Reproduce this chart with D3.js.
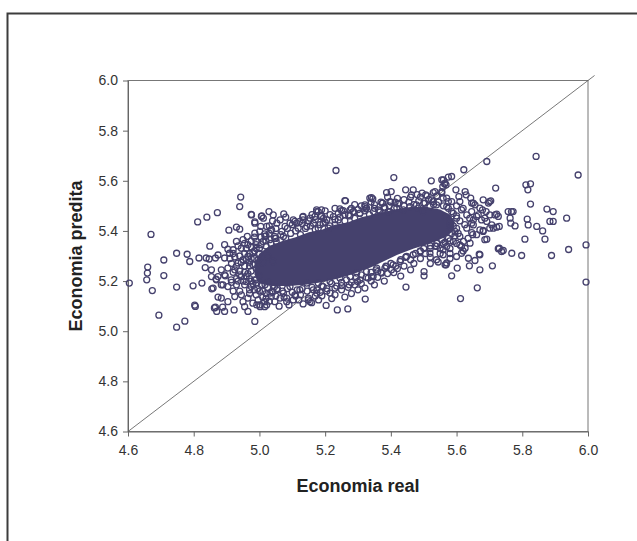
<!DOCTYPE html>
<html><head><meta charset="utf-8">
<script src="https://cdn.jsdelivr.net/npm/d3@7"></script>
<style>body{margin:0;background:#fff}svg{display:block}</style>
</head><body>
<svg id="c" width="637" height="541"></svg>
<script>
const xTicks=[4.6,4.8,5.0,5.2,5.4,5.6,5.8,6.0];
const yTicks=[4.6,4.8,5.0,5.2,5.4,5.6,5.8,6.0];
const xTitle="Economia real";
const yTitle="Economia predita";
const diagonal=[4.6,6.02];
// region where markers overlap into a solid mass
const denseCore=[[4.985,5.27],[5.0,5.31],[5.03,5.34],[5.07,5.36],[5.11,5.375],[5.15,5.395],[5.19,5.405],[5.23,5.425],[5.27,5.435],[5.31,5.455],[5.36,5.47],[5.41,5.485],[5.46,5.495],[5.51,5.495],[5.55,5.485],[5.58,5.465],
[5.595,5.435],[5.59,5.40],[5.565,5.375],
[5.52,5.35],[5.47,5.33],[5.42,5.305],[5.38,5.28],[5.34,5.255],[5.29,5.23],[5.24,5.21],[5.19,5.195],[5.14,5.185],[5.09,5.18],[5.04,5.18],[5.00,5.19],[4.985,5.225]];
const leftPoints=[[4.943,5.535],[4.94,5.497],[4.872,5.473],[4.84,5.455],[4.812,5.436],[4.67,5.386],[4.975,5.466],[5.006,5.458],[5.029,5.477],[4.986,5.436],[5.004,5.418],[4.907,5.403],[4.93,5.415],[4.94,5.407],[4.849,5.339],[4.748,5.311],[4.78,5.307],[4.788,5.278],[4.709,5.284],[4.816,5.292],[4.838,5.292],[4.847,5.288],[4.866,5.292],[4.66,5.256],[4.659,5.232],[4.657,5.205],[4.709,5.222],[4.604,5.192],[4.674,5.162],[4.748,5.176],[4.798,5.181],[4.825,5.192],[4.803,5.104],[4.805,5.099],[4.694,5.064],[4.773,5.04],[4.748,5.016],[4.986,5.039],[4.874,5.136],[4.866,5.096],[4.888,5.096],[4.894,5.079],[4.923,5.085],[4.859,5.172],[4.835,5.254],[4.854,5.218],[4.896,5.221],[4.884,5.185],[4.868,5.208],[4.855,5.169],[4.863,5.093],[4.87,5.079]];
const leftFringe=[[4.93,5.358],[4.95,5.365],[4.963,5.378],[4.986,5.391],[5.001,5.398],[5.016,5.388],[5.036,5.404],[5.046,5.378],[4.894,5.345],[4.904,5.327],[4.92,5.325],[4.945,5.331],[4.965,5.345],[4.99,5.358],[5.011,5.358],[5.031,5.365],[5.051,5.358],[4.874,5.304],[4.894,5.292],[4.909,5.311],[4.925,5.296],[4.935,5.272],[4.95,5.285],[4.965,5.298],[4.98,5.265],[4.996,5.285],[5.011,5.272],[5.026,5.298],[5.041,5.278],[4.904,5.252],[4.925,5.245],[4.884,5.245],[4.854,5.245],[4.874,5.218],[4.894,5.225],[4.914,5.205],[4.93,5.185],[4.945,5.218],[4.96,5.198],[4.975,5.178],[4.99,5.205],[5.006,5.185],[5.026,5.198],[5.046,5.178],[4.904,5.178],[4.889,5.185],[4.869,5.205],[4.884,5.132],[4.904,5.118],[4.925,5.138],[4.95,5.118],[4.965,5.132],[4.98,5.112],[5.001,5.105],[5.016,5.118],[5.036,5.138],[4.955,5.098],[4.996,5.125],[4.965,5.079],[5.016,5.098],
[4.97,5.31],[4.985,5.32],[5.0,5.33],[5.02,5.34],[4.975,5.24],[4.99,5.25],[5.0,5.22],[4.955,5.26],[4.94,5.24],[4.96,5.22],[4.985,5.29],[4.97,5.275],[4.955,5.31],[4.94,5.30],[5.0,5.31],[4.93,5.21],[4.95,5.20],[4.98,5.19],[5.0,5.16],[5.02,5.15],[4.97,5.15],[4.94,5.16],[4.92,5.16],[5.04,5.16],[5.03,5.12],
[4.915,5.27],[4.93,5.26],[4.945,5.275],[4.96,5.285],[4.92,5.235],[4.94,5.225],[4.955,5.235],[4.97,5.21],[4.985,5.205],[4.91,5.29],[4.92,5.31],[4.935,5.34],[4.955,5.35],[4.975,5.36],[4.96,5.33],[4.975,5.335],[4.99,5.345],[4.985,5.375],[5.005,5.375],[5.02,5.38],[5.03,5.39],[4.915,5.195],[4.935,5.20],[4.955,5.185],[4.945,5.145],[4.97,5.165],[4.99,5.145],[5.01,5.135],[4.985,5.165],
[4.975,5.20],[4.965,5.23],[4.97,5.26],[4.975,5.29],[4.98,5.315]];
const bottomFringe=[[4.992,5.192],[5.017,5.185],[5.032,5.152],[5.053,5.165],[5.073,5.152],[5.093,5.178],[5.108,5.145],[5.123,5.165],[5.144,5.192],[5.164,5.165],[5.179,5.192],[5.194,5.178],[5.215,5.198],[5.23,5.172],[5.245,5.212],[5.276,5.218],[5.296,5.232],[5.306,5.205],[5.326,5.238],[5.341,5.218],[5.357,5.252],[5.372,5.232],[5.387,5.258],[5.407,5.265],[5.428,5.278],[5.448,5.298],[5.468,5.305],[5.489,5.318],[5.519,5.311],[5.539,5.338],[5.559,5.325],[5.047,5.118],[5.063,5.132],[5.083,5.118],[5.103,5.125],[5.149,5.125],[5.159,5.114],[5.002,5.098],[5.022,5.105],[4.992,5.105],[5.083,5.132],[5.133,5.109],[5.154,5.118],[5.149,5.132],[5.215,5.152],[5.23,5.145],[5.19,5.141],[5.174,5.152],[5.299,5.198],[5.331,5.212],[5.346,5.218],[5.409,5.234],[5.402,5.245],[5.382,5.252],[5.36,5.238],[5.539,5.285],[5.565,5.265],
[4.995,5.17],[5.01,5.16],[5.025,5.175],[5.04,5.155],[5.055,5.17],[5.07,5.16],[5.085,5.17],[5.10,5.155],[5.115,5.165],[5.13,5.17],[5.145,5.16],[5.16,5.175],[5.175,5.165],[5.19,5.18],[5.205,5.17],[5.22,5.19],[5.235,5.18],[5.25,5.195],[5.265,5.205],[5.28,5.195],[5.295,5.215],[5.31,5.225],[5.325,5.215],[5.34,5.235],[5.355,5.245],[5.37,5.235],[5.385,5.26],[5.40,5.27],[5.415,5.26],[5.43,5.285],[5.445,5.295],[5.46,5.285],[5.475,5.31],[5.49,5.32],[5.505,5.31],[5.52,5.33],[5.535,5.34],[5.55,5.33],[5.565,5.355],[5.58,5.36],[5.595,5.38],
[5.02,5.13],[5.05,5.14],[5.075,5.135],[5.11,5.14],[5.125,5.145],[5.17,5.14],[5.185,5.155],[5.205,5.16],[5.25,5.165],[5.27,5.175],[5.29,5.185],[5.31,5.19],[5.34,5.20],[5.36,5.215],[5.39,5.23],[5.42,5.25],[5.44,5.26],[5.47,5.27],[5.49,5.29],[5.52,5.295],[5.55,5.31],[5.58,5.33],[5.60,5.35],
[5.06,5.10],[5.09,5.105],[5.12,5.125],[5.18,5.125],[5.22,5.13],[5.28,5.15],[5.30,5.165],[5.35,5.185],[5.38,5.20],[5.43,5.22],[5.46,5.245],[5.52,5.27],[5.58,5.29]];
const bottomOutliers=[[5.203,5.103],[5.237,5.085],[5.269,5.089],[5.26,5.136],[5.322,5.128],[5.321,5.172],[5.25,5.182],[5.273,5.185],[5.446,5.176],[5.501,5.238],[5.501,5.221]];
const topFringe=[[5.012,5.451],[5.042,5.464],[5.063,5.444],[5.078,5.418],[5.093,5.431],[5.113,5.431],[5.133,5.444],[5.154,5.451],[5.174,5.477],[5.189,5.46],[5.205,5.444],[5.225,5.457],[5.24,5.444],[5.25,5.481],[5.271,5.464],[5.286,5.477],[5.306,5.471],[5.326,5.491],[5.347,5.477],[5.362,5.484],[5.382,5.491],[5.397,5.477],[5.418,5.491],[5.438,5.484],[5.458,5.497],[5.478,5.504],[5.504,5.511],[5.524,5.524],[5.539,5.504],[5.559,5.531],[5.575,5.517],[5.022,5.418],[5.037,5.404],[5.053,5.431],[5.068,5.398],[5.103,5.444],[5.118,5.411],[5.144,5.418],[5.164,5.431],[5.179,5.411],[5.194,5.431],[5.21,5.411],[5.23,5.424],[5.017,5.378],[5.047,5.371],[5.073,5.378],
[4.99,5.33],[5.005,5.345],[5.02,5.36],[5.035,5.35],[5.05,5.37],[5.065,5.385],[5.08,5.37],[5.095,5.39],[5.11,5.40],[5.125,5.385],[5.14,5.41],[5.155,5.42],[5.17,5.405],[5.185,5.425],[5.2,5.435],[5.215,5.42],[5.23,5.445],[5.245,5.455],[5.26,5.44],[5.275,5.46],[5.29,5.45],[5.305,5.47],[5.32,5.48],[5.335,5.465],[5.35,5.49],[5.365,5.48],[5.38,5.495],[5.395,5.50],[5.41,5.49],[5.425,5.51],[5.44,5.50],[5.455,5.515],[5.47,5.505],[5.485,5.52],[5.50,5.51],[5.515,5.525],[5.53,5.505],[5.545,5.515],[5.56,5.50],[5.575,5.49],[5.59,5.47],
[5.03,5.42],[5.05,5.41],[5.085,5.41],[5.10,5.425],[5.13,5.43],[5.15,5.44],[5.17,5.445],[5.195,5.45],[5.215,5.465],[5.24,5.47],[5.26,5.465],[5.28,5.49],[5.30,5.485],[5.31,5.50],[5.35,5.505],[5.37,5.515],[5.42,5.53],[5.44,5.525],[5.49,5.535],[5.51,5.54],[5.54,5.54],
[5.04,5.44],[5.08,5.455],[5.16,5.465],[5.20,5.48],[5.23,5.49],[5.29,5.505],[5.34,5.515],[5.39,5.535],[5.46,5.535],[5.48,5.545]];
const topOutliers=[[5.233,5.641],[5.409,5.613],[5.523,5.6],[5.555,5.604],[5.565,5.591],[5.558,5.577],[5.445,5.564],[5.468,5.564],[5.463,5.544],[5.387,5.553],[5.401,5.557],[5.495,5.551],[5.506,5.544],[5.529,5.553],[5.262,5.52],[5.336,5.531],[5.345,5.528],[5.374,5.511],[5.4,5.515],[5.413,5.515],[5.421,5.508],[5.321,5.504],[5.324,5.488],[5.245,5.488],[5.255,5.481],[5.189,5.484],[5.179,5.477],[5.074,5.468],[5.007,5.46],[5.132,5.455],[5.123,5.438],[5.108,5.438],[5.367,5.475],[5.392,5.477],[5.286,5.477],[5.483,5.491],[5.499,5.477],[5.519,5.497],[5.529,5.517],[5.57,5.531],[4.986,5.431],[4.976,5.464],[5.133,5.458],[5.174,5.484],[5.186,5.458],[5.169,5.458],[5.26,5.521],[5.276,5.484],[5.321,5.497],[5.341,5.533],[5.375,5.511],[5.397,5.517],[5.534,5.557],[5.555,5.557],[5.575,5.615],[5.563,5.588]];
const rightPoints=[[5.842,5.697],[5.97,5.623],[5.692,5.677],[5.622,5.644],[5.585,5.617],[5.56,5.604],[5.568,5.584],[5.719,5.571],[5.811,5.584],[5.825,5.588],[5.817,5.564],[5.598,5.564],[5.626,5.557],[5.629,5.544],[5.61,5.517],[5.643,5.531],[5.646,5.511],[5.656,5.504],[5.681,5.524],[5.7,5.517],[5.704,5.52],[5.825,5.507],[5.585,5.517],[5.671,5.491],[5.679,5.484],[5.69,5.477],[5.757,5.477],[5.767,5.477],[5.772,5.477],[5.875,5.487],[5.894,5.477],[5.935,5.451],[5.884,5.438],[5.894,5.438],[5.815,5.447],[5.818,5.424],[5.844,5.418],[5.862,5.4],[5.763,5.451],[5.765,5.431],[5.778,5.42],[5.717,5.464],[5.727,5.458],[5.73,5.418],[5.712,5.411],[5.808,5.367],[5.869,5.367],[5.73,5.331],[5.742,5.322],[5.768,5.311],[5.798,5.302],[5.889,5.302],[5.941,5.326],[5.994,5.344],[5.994,5.196],[5.692,5.367],[5.681,5.402],[5.661,5.385],[5.646,5.393],[5.709,5.261],[5.671,5.245],[5.656,5.282],[5.669,5.307],[5.639,5.261],[5.636,5.291],[5.615,5.311],[5.626,5.331],[5.61,5.344],[5.602,5.252],[5.585,5.221],[5.568,5.265],[5.663,5.173],[5.612,5.13],[5.544,5.276],[5.607,5.537],[5.651,5.511],[5.697,5.511],[5.722,5.467],[5.707,5.424],[5.692,5.438],[5.676,5.444],[5.661,5.458],[5.646,5.431],[5.671,5.404],[5.681,5.398],[5.737,5.318],[5.727,5.329],[5.671,5.305],[5.686,5.365],[5.649,5.385],[5.621,5.358]];
const rightFringe=[[5.555,5.551],[5.57,5.497],[5.565,5.458],[5.585,5.477],[5.6,5.451],[5.615,5.484],[5.631,5.464],[5.646,5.477],[5.651,5.444],[5.666,5.464],[5.686,5.451],[5.701,5.464],[5.58,5.418],[5.595,5.398],[5.61,5.378],[5.631,5.411],[5.651,5.424],[5.701,5.411],[5.722,5.415],[5.555,5.365],[5.57,5.338],[5.59,5.358],[5.615,5.338],[5.6,5.298],[5.641,5.351],[5.559,5.305],[5.57,5.272],[5.58,5.44],[5.59,5.42],[5.585,5.39],[5.575,5.37],[5.56,5.35],[5.54,5.35],[5.52,5.34],[5.50,5.33],
[5.60,5.41],[5.61,5.44],[5.60,5.46],[5.605,5.39],[5.60,5.50],[5.62,5.49],[5.64,5.45],[5.625,5.425],[5.635,5.37],[5.62,5.32],[5.58,5.31]];

const points=[].concat(leftPoints,leftFringe,bottomFringe,bottomOutliers,topFringe,topOutliers,rightPoints,rightFringe);
const markColor="#45416d";
const font="'Liberation Sans',Arial,sans-serif";

const svg=d3.select("#c");
svg.append("rect").attr("x",7.5).attr("y",13.5).attr("width",700).attr("height",600)
  .attr("fill","none").attr("stroke","#3c3c3c").attr("stroke-width",2);

const m={l:128,t:80.5,r:588,b:431.5};
const x=d3.scaleLinear().domain([4.6,6.0]).range([m.l,m.r]);
const y=d3.scaleLinear().domain([4.6,6.0]).range([m.b,m.t]);

svg.append("rect").attr("x",m.l).attr("y",m.t).attr("width",m.r-m.l).attr("height",m.b-m.t)
  .attr("fill","none").attr("stroke","#777").attr("stroke-width",1);

const fmt=d3.format(".1f");
const gx=svg.append("g").attr("transform",`translate(0,${m.b})`)
  .call(d3.axisBottom(x).tickValues(xTicks).tickFormat(fmt).tickSize(5).tickSizeOuter(0).tickPadding(9));
const gy=svg.append("g").attr("transform",`translate(${m.l},0)`)
  .call(d3.axisLeft(y).tickValues(yTicks).tickFormat(fmt).tickSize(5).tickSizeOuter(0).tickPadding(5));
[gx,gy].forEach(g=>{
  g.selectAll("path").attr("stroke","#666");
  g.selectAll("line").attr("stroke","#666");
  g.selectAll("text").attr("fill","#333").style("font-family",font).style("font-size","14px");
});

svg.append("line").attr("x1",x(diagonal[0])).attr("y1",y(diagonal[0]))
  .attr("x2",x(diagonal[1])).attr("y2",y(diagonal[1]))
  .attr("stroke","#555").attr("stroke-width",0.8);

svg.append("path").datum(denseCore)
  .attr("d",d3.line().x(d=>x(d[0])).y(d=>y(d[1])).curve(d3.curveLinearClosed))
  .attr("fill",markColor);

svg.append("g").selectAll("circle").data(points).join("circle")
  .attr("cx",d=>x(d[0])).attr("cy",d=>y(d[1])).attr("r",3)
  .attr("fill","none").attr("stroke",markColor).attr("stroke-width",1.3);

svg.append("text").attr("x",(m.l+m.r)/2).attr("y",492).attr("text-anchor","middle")
  .style("font-family",font).style("font-size","18px").style("font-weight","bold")
  .attr("fill","#222").text(xTitle);
svg.append("text").attr("transform",`translate(82,${(m.t+m.b)/2}) rotate(-90)`).attr("text-anchor","middle")
  .style("font-family",font).style("font-size","18px").style("font-weight","bold")
  .attr("fill","#222").text(yTitle);
</script>
</body></html>
